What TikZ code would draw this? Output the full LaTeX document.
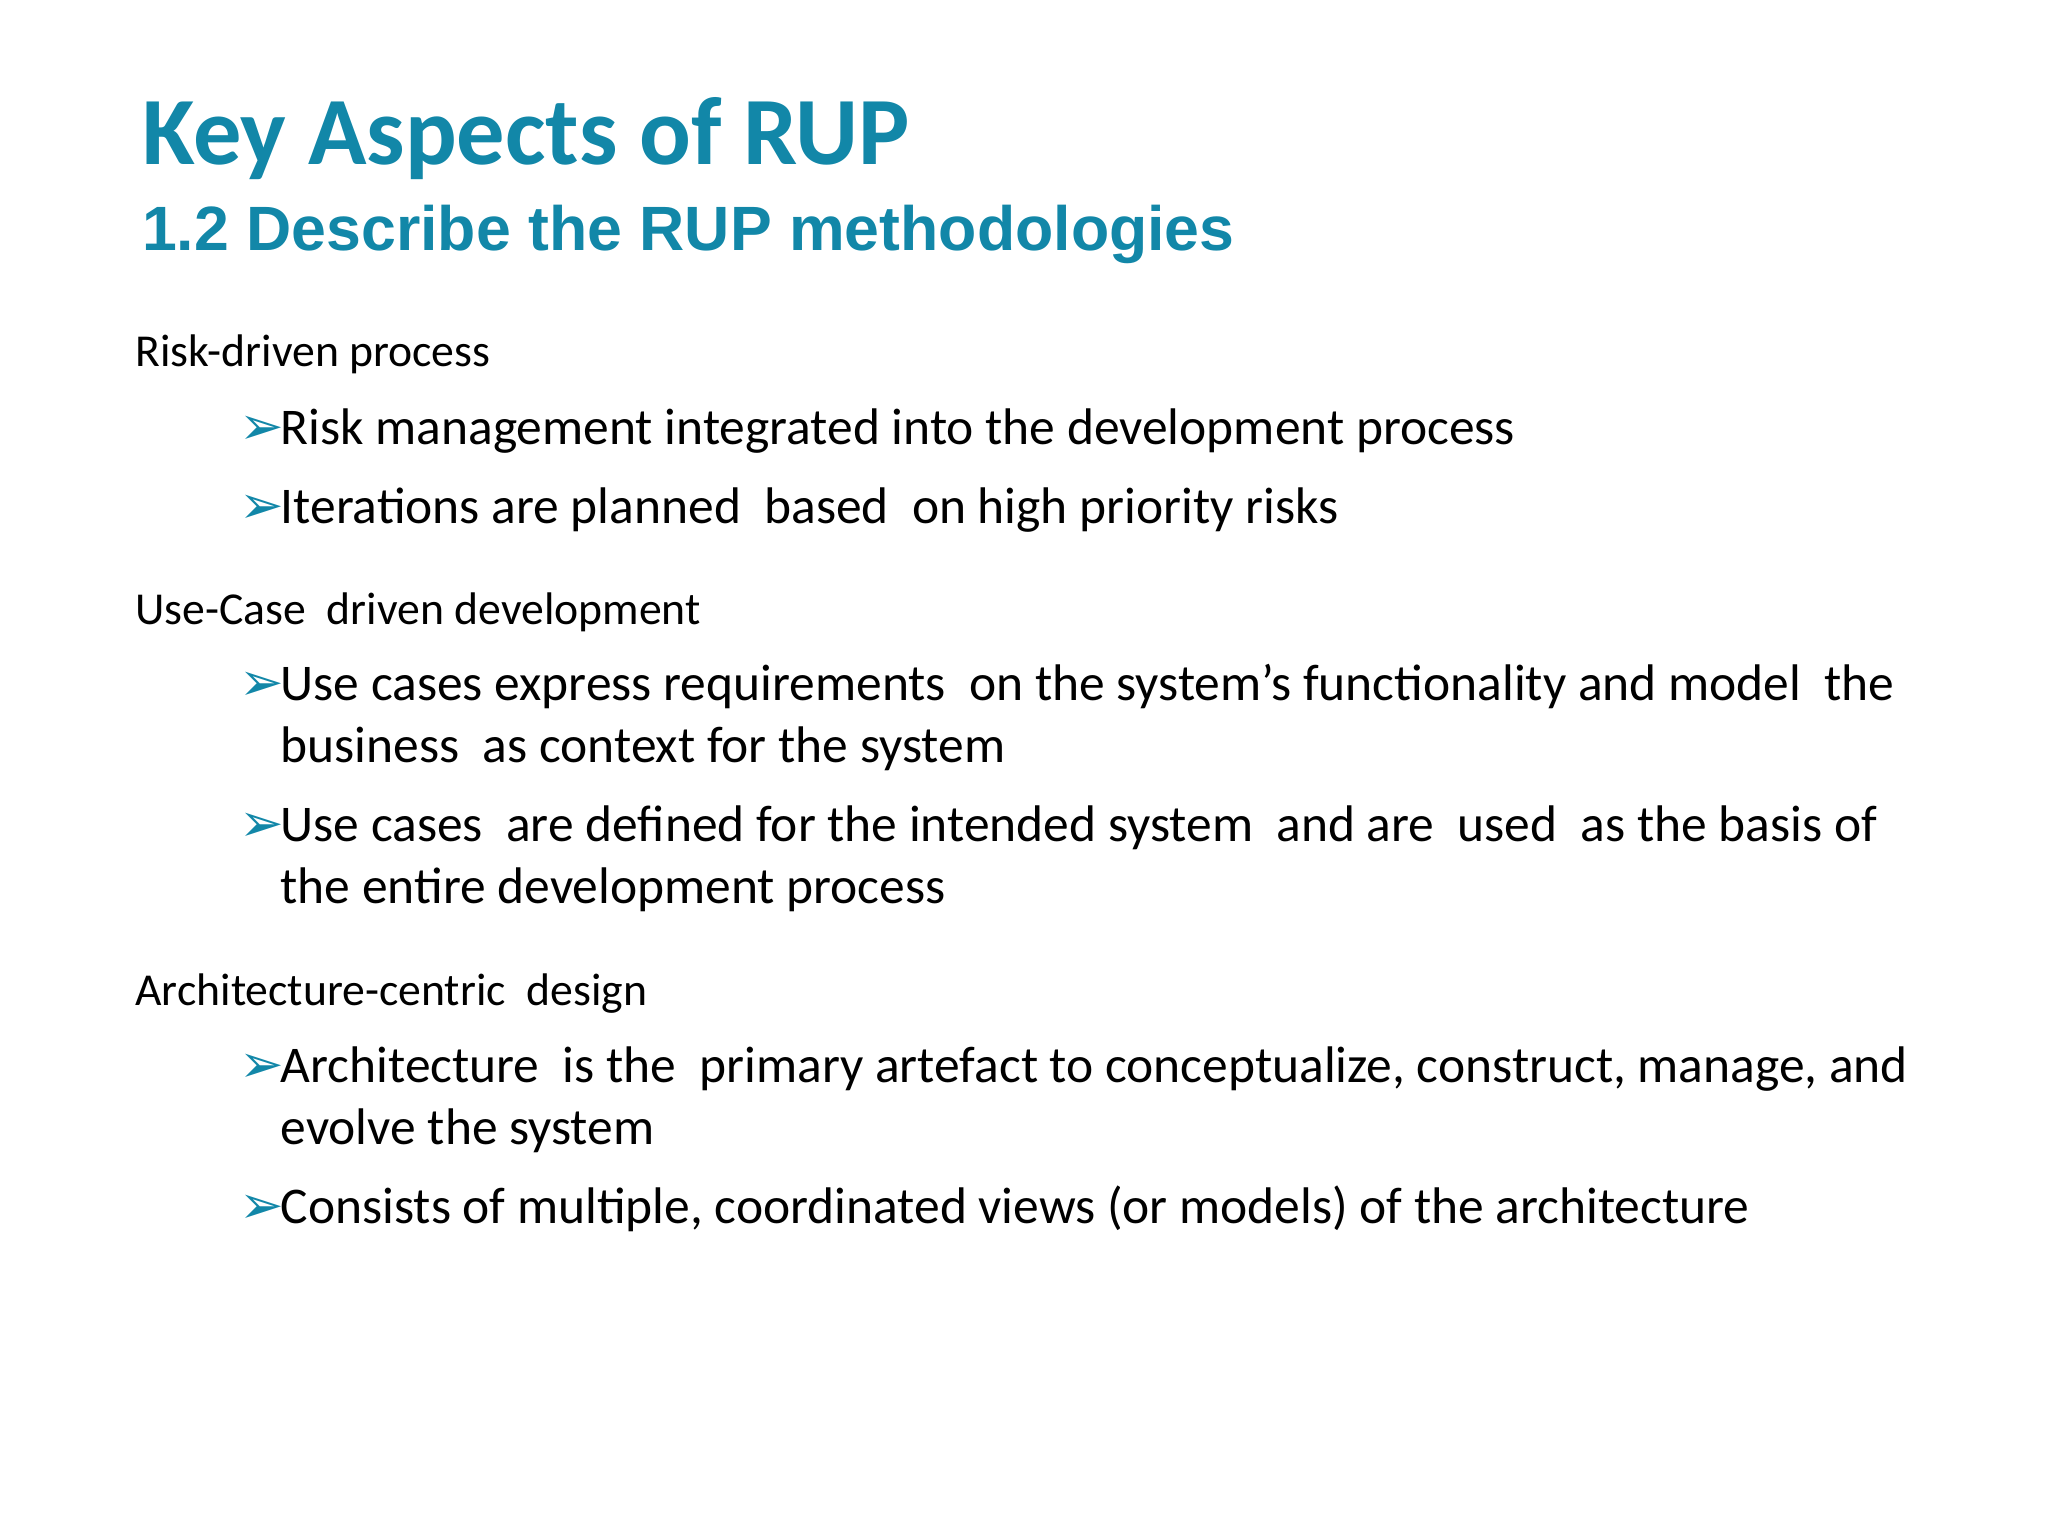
\documentclass[tikz,border=0pt]{standalone}
\usepackage{fontspec}
\setmainfont{Carlito}
\newfontfamily\arialf{Liberation Sans}
\newfontfamily\dejavu{DejaVu Sans}
\definecolor{teal1}{HTML}{1287A8}
\tikzset{
  ttl/.style={anchor=base west,inner sep=0pt,text=teal1,font=\bfseries\fontsize{20.8}{24}\selectfont},
  sub/.style={anchor=base west,inner sep=0pt,text=teal1,font=\arialf\bfseries\fontsize{13.5}{16}\selectfont},
  head/.style={anchor=base west,inner sep=0pt,font=\fontsize{9.85}{11}\selectfont},
  item/.style={anchor=base west,inner sep=0pt,font=\fontsize{11.1}{13}\selectfont},
  arr/.style={anchor=base west,inner sep=0pt,text=teal1,font=\dejavu\bfseries\fontsize{11.5}{12}\selectfont}
}
\begin{document}
\begin{tikzpicture}[x=0.1mm,y=-0.1mm]
\useasboundingbox (0,0) rectangle (1552,1164);
\node[ttl] (t) at (107,125) {Key Aspects of RUP};
\node[sub] (s) at (107,190) {1.2 Describe the RUP methodologies};
\node[head] (h1) at (102,278) {Risk-driven process};
\node[head] (h2) at (102,473) {Use-Case\ \ driven development};
\node[head] (h3) at (102,762) {Architecture-centric\ \ design};
\foreach \n/\y in {a/337,b/397,c/531,d/638,e/820,f/927}
  \node[arr] (arr\n) at (181,\y) {➢};
\node[item] (i1) at (212,337) {Risk management integrated into the development process};
\node[item] (i2) at (212,397) {Iterations are planned\ \ based\ \ on high priority risks};
\node[item] (i3) at (212,531) {Use cases express requirements\ \ on the system’s functionality and model\ \ the};
\node[item] (i3b) at (212,578) {business\ \ as context for the system};
\node[item] (i4) at (212,638) {Use cases\ \ are defined for the intended system\ \ and are\ \ used\ \ as the basis of};
\node[item] (i4b) at (212,685) {the entire development process};
\node[item] (i5) at (212,820) {Architecture\ \ is the\ \ primary artefact to conceptualize, construct, manage, and};
\node[item] (i5b) at (212,867) {evolve the system};
\node[item] (i6) at (212,927) {Consists of multiple, coordinated views (or models) of the architecture};
\end{tikzpicture}
\end{document}
